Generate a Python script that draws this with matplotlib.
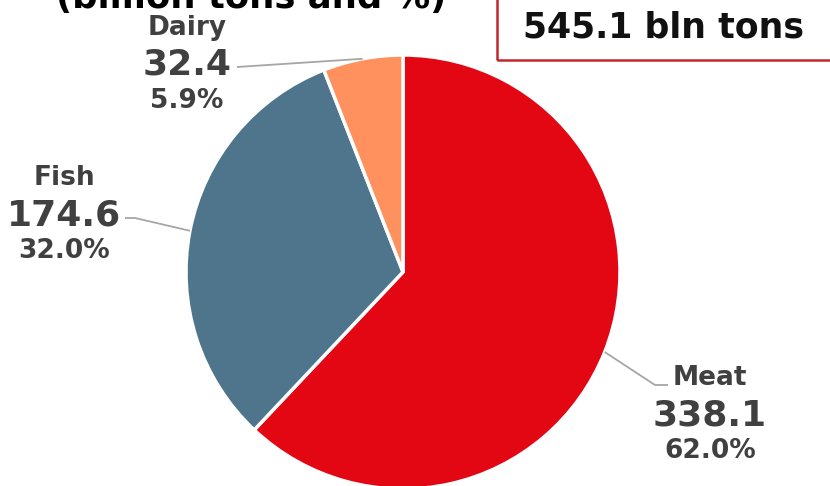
import matplotlib
matplotlib.use("Agg")
import matplotlib.pyplot as plt
import numpy as np
from matplotlib.patches import Rectangle

plt.rcParams["font.family"] = ["DejaVu Sans"]

# consumption by category, billion tons
categories = ["Meat", "Fish", "Dairy"]
values = [338.1, 174.6, 32.4]
colors = ["#E30613", "#4E758C", "#FF915E"]

total = sum(values)
shares = [v / total * 100 for v in values]

W, H = 830, 486
fig = plt.figure(figsize=(W / 100, H / 100), dpi=100)
ax = fig.add_axes([0, 0, 1, 1])

cx, cy, r = 403, H - 272, 217
wedges, _ = ax.pie(values, colors=colors, startangle=90, counterclock=False,
                   center=(cx, cy), radius=r,
                   wedgeprops=dict(edgecolor="white", linewidth=2.5))
ax.set_xlim(0, W)
ax.set_ylim(0, H)
ax.set_aspect("equal")
ax.axis("off")

# label blocks: x centre and name baseline (px from top), leader elbow points
label_pos = {
    "Dairy": dict(x=187, y=35, elbow=(237, 67)),
    "Fish": dict(x=64, y=185, elbow=(125, 218), flat=(135, 218)),
    "Meat": dict(x=710, y=385, elbow=(668, 385), flat=(655, 385)),
}
grey = "#404040"
for w, name, val, pct in zip(wedges, categories, values, shares):
    mid = np.deg2rad((w.theta1 + w.theta2) / 2)
    px, py = cx + r * np.cos(mid), cy + r * np.sin(mid)
    p = label_pos[name]
    pts = [p["elbow"]] + ([p["flat"]] if "flat" in p else [])
    xs = [q[0] for q in pts] + [px]
    ys = [H - q[1] for q in pts] + [py]
    ax.plot(xs, ys, color="#A6A6A6", lw=1.3, solid_capstyle="butt")
    ax.text(p["x"], H - p["y"], name, ha="center", va="baseline",
            fontsize=19, fontweight="bold", color=grey)
    ax.text(p["x"], H - p["y"] - 40, f"{val:.1f}", ha="center", va="baseline",
            fontsize=26, fontweight="bold", color=grey)
    ax.text(p["x"], H - p["y"] - 73, f"{pct:.1f}%", ha="center", va="baseline",
            fontsize=19, fontweight="bold", color=grey)

# headline, mostly above the frame
ax.text(251, H - 8, "(billion tons and %)", ha="center", va="baseline",
        fontsize=25.5, fontweight="bold", color="black")

# total box
ax.add_patch(Rectangle((497, H - 60), 400, 100, fill=False,
                       edgecolor="#C0282D", lw=1.8, clip_on=True))
ax.text(663, H - 38, f"{total:.1f} bln tons", ha="center", va="baseline",
        fontsize=25, fontweight="bold", color="#111111")

fig.savefig("out.png", dpi=100)
